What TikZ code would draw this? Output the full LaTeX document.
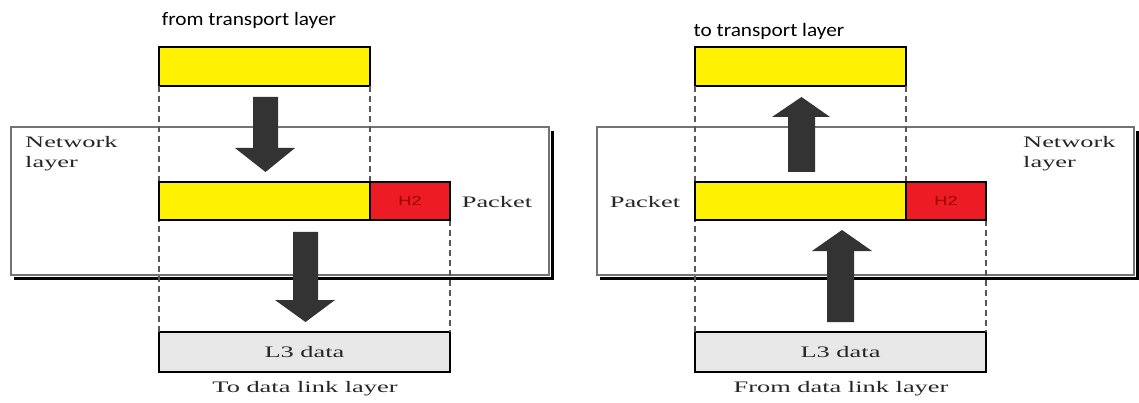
\documentclass[tikz,border=0pt]{standalone}
\usepackage{fontspec}
\usepackage{graphicx}
\setmainfont{Liberation Serif}
\newfontfamily\calib{Carlito}
\newfontfamily\arialf{Liberation Sans}
\definecolor{pyellow}{HTML}{FFF200}
\definecolor{pred}{HTML}{ED1C24}
\definecolor{arrowgray}{HTML}{333333}
\definecolor{boxgray}{HTML}{E8E8E8}
\definecolor{hred}{HTML}{9A0000}
\newcommand{\wide}[1]{\scalebox{1.65}[1]{#1}}
\tikzset{
  x=1pt, y=-1pt,
  field/.style={draw=black, line width=1.6pt, inner sep=0pt, outer sep=0pt, anchor=north west},
  yfield/.style={field, fill=pyellow},
  rfield/.style={field, fill=pred, text=hred, font=\arialf\fontsize{13}{13}\selectfont},
  dfield/.style={field, fill=boxgray, line width=2pt, font=\fontsize{16}{16}\selectfont, text=black!85},
  guide/.style={draw=black!65, dashed, dash pattern=on 6pt off 4pt, line width=1.7pt},
  layerbox/.style={draw=black!55, line width=1.5pt, inner sep=0pt, outer sep=0pt, anchor=north west},
  shadowline/.style={draw=black, line width=3pt},
  serif/.style={font=\fontsize{16}{20}\selectfont, text=black!85, inner sep=0pt},
  sans/.style={font=\calib\fontsize{19}{19}\selectfont, text=black, inner sep=0pt},
  blockarrow/.style={fill=arrowgray, draw=none},
}
\begin{document}
\begin{tikzpicture}
\fill[white] (0,0) rectangle (1139,403);
\useasboundingbox (0,0) rectangle (1139,403);

% ================= LEFT (sender) =================
\draw[shadowline] (14,278) -- (552,278) -- (552,131);
\node[layerbox, minimum width=538pt, minimum height=148pt] (netL) at (11,127) {};
\node[serif, align=left, anchor=north west] (netLtxt) at (25,136) {\wide{Network}\\\wide{layer}};

\node[yfield, minimum width=211pt, minimum height=39pt] (topL) at (159,47) {};
\node[dfield, minimum width=291pt, minimum height=40pt] (l3L) at (159,332) {\wide{L3 data}};
\node[yfield, minimum width=211pt, minimum height=38pt] (datL) at (159,182) {};
\node[rfield, minimum width=80pt, minimum height=38pt] (hdrL) at (370,182) {\scalebox{1.4}[1]{H2}};

\draw[guide] (topL.south west) -- (l3L.north west);
\draw[guide] (topL.south east) -- (datL.north east);
\draw[guide] (hdrL.south east) -- (l3L.north east);
\node[yfield, minimum width=211pt, minimum height=38pt] at (159,182) {};
\node[rfield, minimum width=80pt, minimum height=38pt] at (370,182) {\scalebox{1.4}[1]{H2}};

\node[sans] (fromT) at (249,20) {\scalebox{1.12}[1]{from transport layer}};
\node[serif] (pktL) at (497,202) {\wide{Packet}};
\node[serif] (toDL) at (305,389) {\wide{To data link layer}};

\fill[blockarrow] (253,97) -- (278,97) -- (278,148) -- (295,148) -- (265.5,172) -- (235,148) -- (253,148) -- cycle;
\fill[blockarrow] (293,232) -- (318,232) -- (318,300) -- (335,300) -- (305.5,322) -- (275,300) -- (293,300) -- cycle;

% ================= RIGHT (receiver) =================
\draw[shadowline] (600,278) -- (1137,278) -- (1137,131);
\node[layerbox, minimum width=537pt, minimum height=148pt] (netR) at (597,127) {};
\node[serif, align=left, anchor=north west] (netRtxt) at (1023,136) {\wide{Network}\\\wide{layer}};

\node[yfield, minimum width=211pt, minimum height=39pt] (topR) at (695,47) {};
\node[dfield, minimum width=291pt, minimum height=40pt] (l3R) at (695,332) {\wide{L3 data}};
\node[yfield, minimum width=211pt, minimum height=38pt] (datR) at (695,182) {};
\node[rfield, minimum width=80pt, minimum height=38pt] (hdrR) at (906,182) {\scalebox{1.4}[1]{H2}};

\draw[guide] (topR.south west) -- (l3R.north west);
\draw[guide] (topR.south east) -- (datR.north east);
\draw[guide] (hdrR.south east) -- (l3R.north east);
\node[yfield, minimum width=211pt, minimum height=38pt] at (695,182) {};
\node[rfield, minimum width=80pt, minimum height=38pt] at (906,182) {\scalebox{1.4}[1]{H2}};

\node[sans] (toT) at (769,31) {\scalebox{1.12}[1]{to transport layer}};
\node[serif] (pktR) at (645,202) {\wide{Packet}};
\node[serif] (fromDL) at (841,389) {\wide{From data link layer}};

\fill[blockarrow] (788,172) -- (815,172) -- (815,117) -- (830,117) -- (801.5,97) -- (772,117) -- (788,117) -- cycle;
\fill[blockarrow] (827,322) -- (854,322) -- (854,251) -- (872,251) -- (842,230) -- (812,251) -- (827,251) -- cycle;
\end{tikzpicture}
\end{document}
